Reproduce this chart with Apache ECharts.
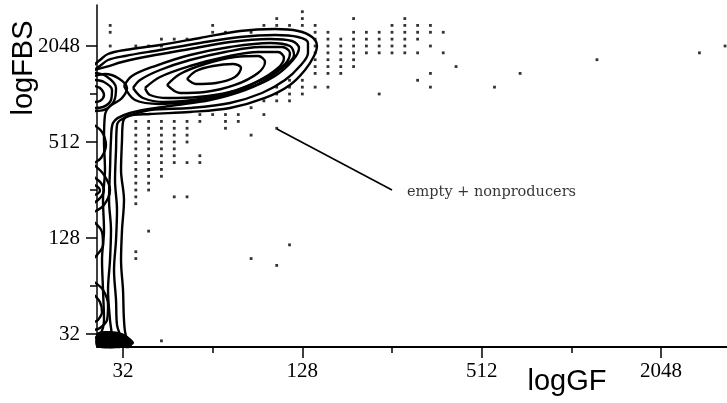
<!DOCTYPE html>
<html>
<head>
<meta charset="utf-8">
<script src="https://cdn.jsdelivr.net/npm/echarts@6/dist/echarts.min.js"></script>
<style>
  html, body { margin: 0; padding: 0; background: #fff; }
  #chart { width: 727px; height: 403px; }
</style>
</head>
<body>
<div id="chart"></div>
<script>
// Both axes are in log2 units; tick labels show the linear channel value 2^v.
const gfRange = [4.71, 11.736];
const fbsRange = [4.729, 11.854];
const labelTicks = [5, 7, 9, 11];
const minorTicks = [6, 8, 10];
const BINS_PER_OCTAVE = 7;

// Contour lines, [logGF, logFBS] vertices, outermost level first.
const contourA = [
  [5.022, 4.667], [5.089, 4.792], [5.033, 4.958], [5.011, 5.292], [5.0, 5.917],
  [4.978, 6.542], [4.989, 7.167], [5.011, 7.792], [4.978, 8.417], [4.989, 9.042],
  [5.0, 9.417], [5.056, 9.542], [5.301, 9.583], [5.747, 9.625], [6.193, 9.708],
  [6.584, 9.917], [6.862, 10.188], [7.030, 10.5], [7.130, 10.792], [7.163, 11.0],
  [7.108, 11.188], [6.952, 11.313], [6.695, 11.354], [6.305, 11.313], [5.859, 11.167],
  [5.413, 11.021], [5.022, 10.917], [4.833, 10.833], [4.743, 10.708], [4.677, 10.604]
];
const contourB = [
  [4.944, 4.667], [4.978, 4.875], [4.933, 5.188], [4.922, 5.708], [4.900, 6.333],
  [4.922, 6.958], [4.933, 7.583], [4.911, 8.208], [4.922, 8.833], [4.933, 9.354],
  [5.011, 9.5], [5.301, 9.667], [5.747, 9.708], [6.193, 9.813], [6.550, 10.021],
  [6.807, 10.292], [6.974, 10.583], [7.063, 10.854], [7.063, 11.063], [6.952, 11.188],
  [6.695, 11.229], [6.305, 11.188], [5.859, 11.063], [5.413, 10.917], [5.022, 10.792],
  [4.833, 10.708], [4.743, 10.583], [4.677, 10.5]
];
const contourC = [
  [4.855, 4.667], [4.877, 4.917], [4.855, 5.292], [4.833, 5.917], [4.855, 6.542],
  [4.866, 7.167], [4.844, 7.792], [4.855, 8.417], [4.866, 9.042], [4.888, 9.396],
  [5.078, 9.604], [5.524, 9.75], [5.970, 9.875], [6.361, 10.083], [6.695, 10.375],
  [6.896, 10.708], [6.963, 10.958], [6.885, 11.104], [6.639, 11.146], [6.193, 11.083],
  [5.747, 10.938], [5.301, 10.792], [4.989, 10.667], [4.810, 10.563], [4.677, 10.5]
];
// Producer population rings
const ringOuter = [
  [5.011, 10.167], [5.100, 10.375], [5.357, 10.583], [5.747, 10.813], [6.193, 10.979],
  [6.639, 11.063], [6.862, 11.0], [6.907, 10.813], [6.773, 10.542], [6.506, 10.208],
  [6.171, 10.0], [5.859, 9.854], [5.413, 9.792], [5.134, 9.875], [5.011, 10.167]
];
const ringD = [
  [5.112, 10.125], [5.190, 10.292], [5.413, 10.5], [5.747, 10.708], [6.138, 10.875],
  [6.528, 10.979], [6.773, 10.979], [6.862, 10.854], [6.807, 10.625], [6.584, 10.333],
  [6.249, 10.063], [5.859, 9.896], [5.468, 9.833], [5.223, 9.917], [5.112, 10.125]
];
const ringD2 = [
  [5.245, 10.125], [5.413, 10.354], [5.747, 10.583], [6.138, 10.771], [6.506, 10.875],
  [6.729, 10.875], [6.795, 10.75], [6.729, 10.542], [6.506, 10.271], [6.193, 10.042],
  [5.836, 9.938], [5.502, 9.917], [5.301, 9.979], [5.245, 10.125]
];
const ringH2 = [
  [5.491, 10.188], [5.636, 10.417], [5.914, 10.625], [6.249, 10.771], [6.506, 10.792],
  [6.584, 10.667], [6.506, 10.438], [6.249, 10.188], [5.914, 10.042], [5.636, 10.021],
  [5.491, 10.188]
];
const ringH3 = [
  [5.714, 10.313], [5.814, 10.479], [6.004, 10.583], [6.227, 10.625], [6.316, 10.542],
  [6.249, 10.354], [6.037, 10.229], [5.814, 10.208], [5.714, 10.313]
];
// Low-GF stripe levels along the FBS axis
const stripeD = [
  [4.677, 10.375], [4.799, 10.417], [4.944, 10.333], [5.045, 10.125], [4.978, 9.896],
  [4.855, 9.75], [4.799, 9.563], [4.788, 9.042], [4.799, 8.417], [4.777, 7.792],
  [4.788, 7.167], [4.766, 6.542], [4.777, 5.917], [4.788, 5.292], [4.743, 4.979],
  [4.677, 4.917]
];
const stripeE0 = [[4.677, 10.438], [4.810, 10.375], [4.922, 10.125], [4.900, 9.854], [4.788, 9.667], [4.677, 9.646]];
const stripeE1 = [[4.677, 10.292], [4.788, 10.25], [4.877, 10.083], [4.866, 9.875], [4.777, 9.729], [4.677, 9.708]];
const stripeE2 = [[4.677, 10.167], [4.743, 10.125], [4.788, 9.979], [4.743, 9.854], [4.677, 9.833]];
const stripeF0 = [[4.677, 9.354], [4.766, 9.208], [4.810, 8.938], [4.755, 8.667], [4.677, 8.563]];
const stripeF1 = [[4.677, 8.521], [4.788, 8.313], [4.855, 8.0], [4.788, 7.688], [4.677, 7.542]];
const stripeF2 = [[4.677, 8.271], [4.755, 8.146], [4.788, 8.0], [4.755, 7.854], [4.677, 7.729]];
const stripeF3 = [[4.677, 8.104], [4.732, 8.042], [4.743, 7.979], [4.710, 7.917], [4.677, 7.896]];
const stripeG0 = [[4.677, 7.333], [4.766, 7.125], [4.777, 6.854], [4.710, 6.646], [4.677, 6.583]];
const stripeG1 = [[4.677, 6.083], [4.777, 5.917], [4.833, 5.604], [4.822, 5.292], [4.743, 5.125], [4.677, 5.083]];
const stripeG2 = [[4.677, 5.813], [4.743, 5.667], [4.766, 5.458], [4.721, 5.292], [4.677, 5.25]];
// Densest cell cluster at the origin (filled)
const originPeak = [
  [4.71, 5.021], [4.855, 5.063], [4.989, 5.021], [5.078, 4.917], [5.123, 4.813],
  [5.056, 4.729], [4.71, 4.729]
];

// Single events outside the lowest contour: [FBS bin, [GF bins]], 7 bins per octave
const eventRows = [
  [82, [49]],
  [81, [47, 49, 53, 57]],
  [80, [34, 42, 46, 47, 48, 49, 50, 56, 57, 58, 59]],
  [79, [34, 42, 43, 45, 50, 51, 53, 54, 55, 56, 57, 58, 59, 60]],
  [78, [38, 39, 40, 50, 51, 52, 53, 54, 55, 56, 57, 58]],
  [77, [34, 36, 37, 38, 50, 51, 52, 53, 54, 55, 56, 57, 59, 82]],
  [76, [50, 51, 52, 53, 54, 55, 56, 57, 58, 60, 80]],
  [75, [50, 51, 52, 53, 72]],
  [74, [50, 51, 52, 53, 61]],
  [73, [50, 51, 52, 59, 66]],
  [72, [48, 49, 58]],
  [71, [47, 48, 49, 50, 51, 59, 64]],
  [70, [47, 48, 49, 55]],
  [69, [46, 47, 48]],
  [68, [45]],
  [67, [41, 42, 43, 44, 46]],
  [66, [36, 37, 38, 39, 40, 41, 43, 44]],
  [65, [36, 37, 38, 39, 40, 43, 47]],
  [64, [36, 37, 38, 39, 40, 45]],
  [63, [36, 37, 38, 39, 40]],
  [62, [36, 37, 38, 39]],
  [61, [36, 37, 38, 39, 41]],
  [60, [36, 37, 38, 39, 40, 41]],
  [59, [36, 37, 38]],
  [58, [36, 37, 38]],
  [57, [36, 37]],
  [56, [36, 37]],
  [55, [36, 39, 40]],
  [54, [36]],
  [50, [37]],
  [48, [48]],
  [47, [36]],
  [46, [36, 45]],
  [45, [47]],
  [34, [38]]
];

// Annotation: arrow from the label toward the empty/nonproducer region
const annotationText = 'empty + nonproducers';
const annotationAnchor = [8.167, 7.958];
const arrowFrom = [8.0, 8.0];
const arrowTo = [6.717, 9.271];

const contourLines = [
  contourA, contourB, contourC, ringOuter, ringD, ringD2, ringH2, ringH3,
  stripeD, stripeE0, stripeE1, stripeE2, stripeF0, stripeF1, stripeF2, stripeF3,
  stripeG0, stripeG1, stripeG2
];

const events = [];
eventRows.forEach(([fbsBin, gfBins]) => {
  gfBins.forEach(g => events.push([g / BINS_PER_OCTAVE, fbsBin / BINS_PER_OCTAVE]));
});

const linearLabel = v => String(Math.round(Math.pow(2, v)));
const tickFont = { fontFamily: 'Liberation Serif', fontSize: 21, color: '#000' };

const chart = echarts.init(document.getElementById('chart'), null, { renderer: 'canvas' });

const series = contourLines.map(pts => ({
  type: 'line',
  data: pts,
  smooth: 0.35,
  showSymbol: false,
  symbol: 'none',
  clip: true,
  silent: true,
  lineStyle: { color: '#000', width: 2.4 },
  z: 3
}));

series.push({
  type: 'custom',
  data: [[originPeak[0][0], originPeak[0][1]]],
  silent: true,
  z: 4,
  renderItem: (params, api) => ({
    type: 'polygon',
    shape: { points: originPeak.map(p => api.coord(p)), smooth: 0.3 },
    style: { fill: '#000' }
  })
});

series.push({
  type: 'scatter',
  data: events,
  symbol: 'rect',
  symbolSize: 2.8,
  silent: true,
  itemStyle: { color: '#000' },
  z: 2
});

series.push({
  type: 'scatter',
  data: [annotationAnchor],
  symbolSize: 0,
  silent: true,
  label: {
    show: true,
    position: 'right',
    distance: 0,
    formatter: annotationText,
    fontFamily: 'DejaVu Serif',
    fontSize: 14.5,
    color: '#000'
  },
  markLine: {
    silent: true,
    symbol: ['none', 'arrow'],
    symbolSize: [0, 9],
    label: { show: false },
    lineStyle: { color: '#000', width: 1.6, type: 'solid' },
    data: [[{ coord: arrowFrom }, { coord: arrowTo }]]
  }
});

chart.setOption({
  animation: false,
  backgroundColor: '#fff',
  grid: { left: 97, right: 0, top: 5, bottom: 56 },
  xAxis: [
    {
      type: 'value', min: gfRange[0], max: gfRange[1], position: 'bottom',
      axisLine: { lineStyle: { color: '#000', width: 2 } },
      axisTick: { customValues: labelTicks, length: 11, lineStyle: { color: '#000', width: 1.5 } },
      axisLabel: { customValues: labelTicks, formatter: linearLabel, margin: 14, ...tickFont },
      splitLine: { show: false }
    },
    {
      type: 'value', min: gfRange[0], max: gfRange[1], position: 'bottom',
      axisLine: { show: false },
      axisTick: { customValues: minorTicks, length: 6, lineStyle: { color: '#000', width: 1.5 } },
      axisLabel: { show: false },
      splitLine: { show: false }
    }
  ],
  yAxis: [
    {
      type: 'value', min: fbsRange[0], max: fbsRange[1], position: 'left',
      axisLine: { lineStyle: { color: '#000', width: 1.5 } },
      axisTick: { customValues: labelTicks, length: 11, lineStyle: { color: '#000', width: 1.5 } },
      axisLabel: { customValues: labelTicks, formatter: linearLabel, margin: 17, ...tickFont },
      splitLine: { show: false }
    },
    {
      type: 'value', min: fbsRange[0], max: fbsRange[1], position: 'left',
      axisLine: { show: false },
      axisTick: { customValues: minorTicks, length: 7, lineStyle: { color: '#000', width: 1.5 } },
      axisLabel: { show: false },
      splitLine: { show: false }
    }
  ],
  graphic: [
    {
      type: 'text', x: 567, y: 382,
      style: { text: 'logGF', fontFamily: 'Liberation Sans', fontSize: 29, fill: '#000', align: 'center', verticalAlign: 'middle' }
    },
    {
      type: 'text', x: 24, y: 68, rotation: Math.PI / 2,
      style: { text: 'logFBS', fontFamily: 'Liberation Sans', fontSize: 29, fill: '#000', align: 'center', verticalAlign: 'middle' }
    }
  ],
  series: series
});
</script>
</body>
</html>
